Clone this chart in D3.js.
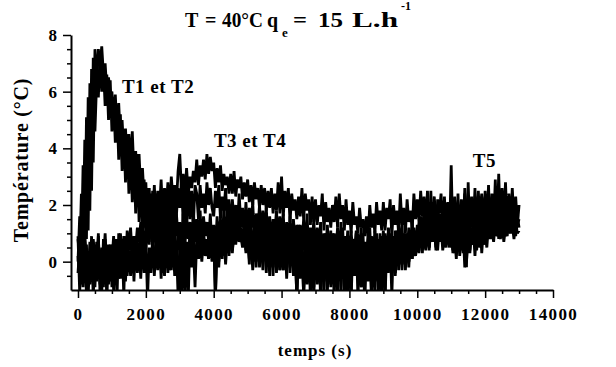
<!DOCTYPE html>
<html>
<head>
<meta charset="utf-8">
<script src="https://cdn.jsdelivr.net/npm/d3@7"></script>
<style>
  html, body { margin: 0; padding: 0; background: #fff; }
  svg { display: block; }
  svg text { font-family: "Liberation Serif", "Times New Roman", Tinos, "DejaVu Serif", serif !important; font-weight: bold; fill: #000; }
</style>
</head>
<body>
<svg id="chart" width="616" height="367"></svg>
<script>
// ---- data: temperature rise (°C), one sample every 50 s from 0 to 13000 s ----
const sampleStep = 50;

const T1 = [
  0.8, 0.2, 2.4, 0.4, 4.3, 0.8, 5.8, 1.8, 6.8, 3.5,
  7.5, 6.3, 7.5, 6.9, 7.6, 6.6, 7.0, 6.0, 6.5, 5.9,
  6.0, 5.0, 5.9, 4.6, 5.6, 4.3, 5.0, 3.9, 4.7, 3.6,
  4.5, 3.4, 4.6, 3.1, 3.9, 2.8, 3.8, 2.5, 3.3, 2.2,
  2.8, 1.2, 2.6, 0.9, 2.5, 1.3, 2.4, 0.7, 2.2, 1.0,
  1.9, 0.5, 2.2, 0.8, 1.8, 0.4, 2.0, 0.6, 1.7, 0.9,
  1.4, 0.6, 1.7, 0.5, 1.6, 0.8, 1.4, 0.4, 1.8, 0.7,
  1.5, 0.6, 1.8, 0.5, 1.6, 0.9, 1.4, 0.7, 1.7, 0.4,
  1.3, 0.4, 1.6, 0.7, 1.5, 0.5, 1.9, 0.8, 1.6, 1.0,
  1.9, 0.9, 1.7, 1.1, 1.5, 0.8, 1.8, 1.2, 1.6, 0.7,
  1.5, 0.6, 1.3, 0.3, 1.2, 0.5, 1.6, 0.8, 1.4, 0.4,
  1.6, 0.5, 1.3, 0.2, 1.1, 0.6, 1.5, 0.3, 1.2, 0.5,
  1.4, 0.1, 1.0, 0.5, 1.3, -0.2, 0.9, 0.4, 1.2, 0.0,
  1.3, -0.2, 0.9, 0.4, 1.2, 0.1, 1.0, -0.3, 0.8, 0.2,
  0.8, -0.3, 1.1, 0.2, 0.7, -0.5, 1.0, 0.1, 0.6, -0.4,
  1.0, 0.2, 0.8, -0.6, 0.5, 0.1, 1.2, -0.3, 0.9, 0.0,
  0.9, -0.4, 0.7, 0.3, 1.1, -0.1, 0.8, 0.4, 1.0, -0.6,
  0.5, 0.2, 1.2, -0.3, 0.8, 0.1, 1.0, -0.4, 0.7, 0.3,
  1.1, -0.1, 0.8, 0.4, 1.0, 0.0, 0.9, -0.4, 0.7, 0.3,
  1.1, -0.1, 0.8, 0.4, 1.0, 0.0, 0.9, 0.2, 1.2, 0.3,
  1.2, 0.5, 1.0, 0.3, 1.3, 0.6, 1.1, 0.4, 1.4, 0.8,
  1.3, 0.4, 1.1, 0.8, 1.4, 0.6, 1.2, 0.5, 1.0, 0.7,
  1.1, 0.3, 1.3, 0.7, 1.2, 0.2, 1.0, 0.5, 1.4, 0.6,
  1.2, 0.4, 1.0, 0.6, 1.4, 0.5, 1.3, 0.7, 1.5, 0.8,
  1.6, 0.8, 1.9, 1.0, 1.7, 1.2, 2.0, 0.9, 1.8, 1.1,
  1.7, 0.9, 1.8, 1.3, 2.1, 1.0, 1.9, 1.2, 2.0, 1.3,
  1.5
];
const T2 = [
  0.0, 1.6, 0.3, 3.4, 0.6, 5.1, 1.1, 6.3, 2.5, 7.2,
  4.6, 6.4, 5.8, 7.3, 6.0, 6.9, 5.5, 6.6, 5.0, 6.4,
  4.6, 5.8, 4.2, 5.5, 3.6, 5.2, 3.2, 4.6, 2.8, 4.5,
  2.4, 4.0, 2.1, 3.6, 1.7, 3.8, 1.4, 3.1, 1.1, 2.9,
  1.0, 2.6, 0.7, 2.4, 0.5, 2.3, 0.2, 2.0, -0.1, 1.8,
  -0.4, 1.6, 0.1, 1.2, -0.3, 1.4, 0.0, 1.1, -0.5, 0.9,
  0.9, -0.6, 1.0, -0.2, 0.7, -0.4, 1.2, 0.0, 1.0, 0.1,
  0.6, 0.1, 0.9, 0.2, 1.1, 0.3, 0.8, 0.1, 0.9, 0.2,
  1.1, -1.3, 0.8, -0.2, 1.2, 0.1, 1.0, 0.3, 1.3, 0.2,
  1.4, 0.3, 1.3, 0.7, 1.5, 0.8, 1.2, 0.6, 1.3, 0.4,
  0.9, -0.1, 1.1, 0.2, 0.8, -0.2, 1.0, 0.1, 0.7, -0.3,
  1.0, 0.0, 0.7, -0.5, 0.9, -0.2, 1.1, -0.4, 0.6, -0.3,
  0.4, -0.3, 0.9, -0.6, 0.6, 0.1, 0.8, -0.5, 0.5, -1.3,
  0.5, -0.4, 0.7, -1.2, 0.4, -0.3, 0.8, -0.6, 0.5, -1.3,
  0.9, -0.2, 0.6, -0.7, 0.4, -1.2, 0.8, -0.3, 0.5, -0.8,
  0.4, -0.5, 0.8, -1.3, 0.6, -0.1, 0.7, -1.2, 0.3, -0.6,
  0.8, -1.3, 0.5, -0.4, 0.6, -0.2, 0.8, -0.9, 0.4, -1.4,
  0.6, -0.5, 0.9, -1.1, 0.3, -0.7, 0.8, -1.3, 0.5, -0.6,
  0.8, -1.3, 0.5, -0.4, 0.6, -0.2, 0.8, -0.5, 0.4, 0.0,
  0.7, -0.3, 0.9, 0.0, 0.6, -0.2, 1.0, 0.1, 0.8, 0.2,
  0.9, 0.3, 1.1, 0.6, 0.8, 0.4, 1.2, 0.5, 1.0, 0.7,
  1.2, 0.5, 1.0, 0.7, 1.3, 0.4, 0.9, 0.6, 1.1, 0.5,
  1.3, 0.4, 0.9, 0.1, 1.1, 0.5, 0.8, 0.3, 1.2, 0.0,
  0.9, 0.3, 1.2, 0.6, 1.0, 0.4, 1.3, 0.5, 1.1, 0.6,
  1.0, 0.5, 1.3, 0.8, 1.1, 0.7, 1.4, 0.9, 1.2, 0.8,
  1.4, 0.7, 1.2, 0.9, 1.5, 1.0, 1.3, 0.8, 1.4, 1.0,
  1.1
];
const T3 = [
  0.2, -0.5, 0.6, -0.3, 0.9, 0.1, -0.6, 0.7, -0.2, 0.8,
  0.1, -0.4, 0.9, -0.8, 0.5, 0.0, 1.0, -0.3, 0.6, -0.7,
  0.0, 0.9, -0.3, 0.6, -0.5, 1.0, 0.3, 0.8, -0.2, 1.1,
  0.4, 1.2, 0.1, 0.9, 0.5, 1.2, 0.7, 1.4, 0.8, 1.6,
  1.2, 2.4, 1.0, 2.2, 1.5, 2.7, 1.3, 2.5, 1.8, 2.9,
  1.6, 2.6, 1.9, 2.8, 1.7, 3.0, 2.2, 2.7, 2.0, 3.2,
  3.8, 2.5, 3.1, 2.3, 3.3, 2.4, 3.0, 2.6, 3.2, 2.8,
  3.6, 2.7, 3.4, 3.0, 3.6, 2.9, 3.8, 3.1, 3.7, 3.2,
  3.5, 2.6, 3.3, 2.8, 3.4, 2.5, 3.1, 2.7, 3.0, 2.4,
  3.1, 2.4, 3.2, 2.3, 2.9, 2.6, 3.0, 2.2, 2.8, 2.3,
  2.9, 2.1, 2.7, 2.0, 2.8, 2.2, 2.6, 1.9, 2.7, 2.0,
  2.6, 1.8, 2.5, 1.9, 2.6, 1.7, 2.4, 1.8, 2.8, 1.7,
  3.0, 1.6, 2.5, 1.9, 2.6, 1.4, 2.4, 1.8, 2.2, 1.5,
  2.3, 1.6, 2.6, 1.5, 2.4, 1.8, 2.2, 1.3, 2.3, 1.4,
  2.2, 1.3, 2.0, 1.6, 2.4, 1.1, 2.1, 1.4, 1.9, 1.2,
  2.0, 1.4, 2.3, 1.2, 2.4, 1.5, 2.0, 1.1, 2.2, 1.3,
  1.8, 1.0, 2.1, 1.3, 1.6, 1.0, 1.9, 1.2, 1.5, 0.9,
  1.6, 0.9, 2.0, 1.2, 1.7, 1.0, 2.1, 1.3, 1.8, 1.1,
  2.1, 1.1, 1.9, 1.5, 2.2, 0.9, 2.0, 1.3, 1.8, 1.0,
  2.4, 1.3, 1.9, 1.0, 2.2, 1.4, 1.8, 1.1, 2.4, 1.5,
  2.2, 1.4, 2.5, 1.6, 2.3, 1.3, 2.5, 1.5, 2.1, 1.7,
  2.3, 1.5, 2.0, 1.7, 2.4, 1.4, 2.2, 1.6, 2.1, 1.2,
  2.1, 1.6, 2.3, 1.4, 2.0, 1.8, 2.2, 1.5, 2.4, 1.6,
  2.2, 1.4, 2.0, 1.7, 2.3, 1.5, 2.1, 1.8, 2.4, 1.6,
  2.3, 1.7, 2.0, 1.5, 2.2, 1.6, 2.1, 1.9, 2.3, 1.4,
  2.2, 1.8, 2.1, 1.5, 2.0, 1.7, 2.3, 1.4, 1.8, 1.6,
  1.6
];
const T4 = [
  -0.4, 0.5, -0.8, 0.3, -0.5, 0.6, -1.2, 0.2, -0.7, 0.4,
  -0.9, 0.7, -0.3, 0.4, -1.1, 0.8, -0.4, 0.3, -0.8, 0.6,
  -0.9, 0.5, -0.3, 0.8, -0.6, 0.4, -0.2, 0.9, -0.7, 0.6,
  -0.2, 0.4, -0.4, 0.9, 0.1, 0.7, -0.1, 1.0, 0.1, 1.1,
  0.4, 1.4, 0.6, 1.7, 0.8, 1.9, 1.1, 2.2, 0.9, 2.0,
  1.3, 2.2, 1.0, 2.0, 1.5, 2.6, 1.2, 2.4, 1.6, 2.6,
  1.9, 2.8, 1.4, 2.6, 1.2, 2.9, 1.5, 2.5, 1.3, 2.7,
  2.4, 1.5, 2.7, 1.9, 2.4, 1.7, 2.8, 2.0, 2.6, 1.9,
  1.6, 2.5, 1.9, 2.7, 1.5, 2.3, 1.8, 2.6, 1.4, 2.2,
  1.1, 2.2, 1.4, 2.0, 1.2, 2.4, 1.3, 1.9, 1.0, 2.1,
  1.0, 1.9, 1.2, 2.1, 0.8, 1.7, 1.1, 2.0, 0.9, 1.8,
  1.1, 1.9, 0.7, 1.6, 0.6, 1.5, 1.0, 1.8, 0.8, 1.6,
  0.9, 1.7, 0.4, 1.4, 0.7, 1.6, 0.3, 1.5, 0.6, 1.3,
  0.2, 1.3, 0.5, 1.5, 0.3, 1.7, 0.4, 1.2, 0.5, 1.5,
  0.1, 1.2, 0.4, 1.4, -0.1, 1.0, 0.3, 1.3, 0.0, 1.1,
  -0.2, 1.0, 0.3, 1.2, 0.0, 1.4, -0.3, 0.9, 0.2, 1.1,
  -0.2, 1.1, 0.2, 0.8, -0.3, 1.0, 0.1, 1.2, -0.4, 0.7,
  0.1, 1.0, -0.2, 0.9, 0.2, 1.1, -0.3, 0.8, -0.2, 0.9,
  0.2, 1.0, -0.1, 1.2, 0.3, 0.9, 0.0, 1.1, 0.2, 1.3,
  0.5, 1.3, 0.1, 1.0, 0.3, 1.2, 0.2, 1.4, 0.4, 1.1,
  0.6, 1.4, 0.5, 1.2, 0.8, 1.5, 0.6, 1.3, 0.7, 1.6,
  0.8, 1.5, 0.4, 1.3, 0.7, 1.4, 0.5, 1.2, 0.9, 1.4,
  0.5, 1.2, 0.3, 1.0, 0.6, 1.3, 0.4, 1.1, -0.2, 1.1,
  0.4, 1.3, 0.6, 1.2, 0.2, 1.2, 0.5, 1.4, 0.3, 1.2,
  0.6, 1.4, 0.9, 1.6, 0.8, 1.5, 1.0, 1.7, 0.8, 1.6,
  1.1, 1.5, 0.9, 1.7, 1.0, 1.6, 1.1, 1.5, 0.9, 1.6,
  1.2
];
const T5 = [
  0.9, -1.1, 0.5, -0.9, 0.7, -1.2, 0.3, -0.8, 0.9, -1.3,
  0.6, -0.7, 1.0, -1.2, 0.4, -0.9, 0.8, -1.4, 0.5, -0.6,
  0.6, -1.0, 0.8, -1.3, 1.0, -0.6, 0.7, -1.2, 0.9, -0.5,
  0.4, -0.5, 0.6, -0.7, 0.8, -0.4, 0.5, -0.6, 0.9, -0.4,
  0.7, -1.3, 0.5, -0.4, 0.9, -0.5, 0.6, -0.3, 0.8, -0.6,
  0.7, -0.5, 1.0, -0.4, 0.6, -0.3, 0.8, -0.5, 0.6, -1.2,
  0.4, -1.4, 0.7, -1.1, 0.6, -1.3, 0.9, -0.2, 0.5, -0.9,
  0.8, 0.1, 0.6, 0.0, 0.9, 0.2, 0.5, 0.1, 0.7, 0.0,
  0.8, -1.2, 0.6, 0.0, 0.9, 0.2, 1.0, -0.1, 0.8, 0.3,
  1.1, 0.4, 1.0, 0.6, 1.2, 0.7, 0.9, 0.5, 1.1, 0.3,
  1.0, 0.1, 0.8, -0.3, 0.7, 0.0, 1.2, -0.2, 0.9, 0.1,
  0.6, -0.4, 1.0, -0.2, 0.8, -0.5, 1.1, 0.0, 0.7, -0.3,
  0.9, -0.3, 0.5, -0.1, 1.0, -0.4, 0.7, -0.2, 0.6, -1.3,
  0.4, -0.6, 0.8, -1.2, 0.5, -0.8, 0.9, -1.4, 0.6, -0.9,
  0.5, -0.8, 0.9, -1.4, 0.3, -0.7, 0.8, -1.1, 0.6, -0.9,
  0.7, -1.3, 0.4, -0.8, 0.9, -1.2, 0.5, -0.6, 0.8, -1.4,
  0.6, -1.1, 0.8, -0.5, 1.0, -1.3, 0.4, -0.9, 0.7, -1.2,
  0.5, -0.7, 0.9, -1.4, 0.6, -1.0, 0.8, -0.5, 1.0, -1.3,
  0.6, -1.1, 0.9, -0.2, 0.7, -1.2, 0.8, 0.0, 1.1, -0.3,
  0.8, -0.1, 1.0, -0.3, 0.7, 0.0, 1.1, 0.1, 1.0, 0.2,
  1.3, 0.4, 1.6, 0.5, 2.0, 0.6, 1.8, 0.5, 2.5, 0.8,
  1.9, 0.6, 2.2, 0.9, 1.7, 0.7, 2.3, 0.8, 1.9, 0.9,
  3.4, 0.7, 2.2, 1.0, 2.4, 0.5, 2.0, 0.8, 2.6, -0.2,
  2.8, 0.9, 2.3, 1.1, 2.6, 0.8, 2.5, 1.0, 2.2, 1.1,
  2.5, 1.3, 2.7, 0.9, 2.4, 1.2, 2.9, 1.0, 3.1, 1.2,
  2.6, 1.5, 2.8, 1.2, 2.4, 1.3, 2.6, 1.4, 2.3, 1.3,
  2.0
];

const seriesList = [T5, T4, T3, T2, T1];
const xMajorTicks = [0, 2000, 4000, 6000, 8000, 10000, 12000, 14000];
const yMajorTicks = [0, 2, 4, 6, 8];
const curveLabels = [
  { text: "T1 et T2", t: 2360, v: 5.96 },
  { text: "T3 et T4", t: 5070, v: 4.06 },
  { text: "T5", t: 11980, v: 3.35 }
];
const titleParts = [
  { text: "T", x: 185, y: 27, size: 20, len: null },
  { text: "=", x: 205, y: 27, size: 20, len: null },
  { text: "40°C", x: 222, y: 27, size: 20, len: 41 },
  { text: "q", x: 267, y: 27, size: 20, len: null },
  { text: "e", x: 282, y: 37, size: 13, len: null },
  { text: "=", x: 293, y: 27, size: 20, len: 14 },
  { text: "15", x: 318, y: 27, size: 20, len: 25 },
  { text: "L.h", x: 352, y: 27, size: 20, len: 46 },
  { text: "-1", x: 401, y: 10, size: 12, len: 10 }
];

// ---- drawing ----
const svg = d3.select("#chart");
const x = d3.scaleLinear().domain([-206, 14000]).range([71, 553]);
const y = d3.scaleLinear().domain([-1, 8]).range([290, 35]);

svg.append("defs").append("clipPath").attr("id", "plotclip")
  .append("rect").attr("x", 72).attr("y", 30).attr("width", 481).attr("height", 260);

const line = d3.line()
  .x((d, i) => x(i * sampleStep))
  .y(d => y(d));

const g = svg.append("g").attr("clip-path", "url(#plotclip)");
g.selectAll("path.series")
  .data(seriesList)
  .join("path")
  .attr("class", "series")
  .attr("d", line)
  .attr("fill", "none")
  .attr("stroke", "#000")
  .attr("stroke-width", 2.8)
  .attr("stroke-linejoin", "miter")
  .attr("stroke-miterlimit", 2);

// minor ticks
const xMinor = d3.range(0, 14001, 500).filter(v => v % 2000 !== 0);
const yMinor = d3.range(-0.5, 8, 0.5).filter(v => v % 2 !== 0);

svg.append("g").attr("transform", "translate(0,290)")
  .call(d3.axisBottom(x).tickValues(xMinor).tickSize(4).tickFormat(""))
  .call(a => a.select(".domain").remove())
  .selectAll("line").attr("stroke-width", 1.5);
svg.append("g").attr("transform", "translate(71,0)")
  .call(d3.axisLeft(y).tickValues(yMinor).tickSize(4).tickFormat(""))
  .call(a => a.select(".domain").remove())
  .selectAll("line").attr("stroke-width", 1.5);

// major axes
const xAxis = svg.append("g").attr("transform", "translate(0,290)")
  .call(d3.axisBottom(x).tickValues(xMajorTicks).tickSize(8).tickSizeOuter(0).tickPadding(10).tickFormat(d3.format("d")));
xAxis.attr("font-family", null);
xAxis.select(".domain").attr("stroke-width", 2);
xAxis.selectAll("line").attr("stroke-width", 1.5);
xAxis.selectAll("text").style("font-size", "17px").style("letter-spacing", "1.4px");

const yAxis = svg.append("g").attr("transform", "translate(71,0)")
  .call(d3.axisLeft(y).tickValues(yMajorTicks).tickSize(8).tickSizeOuter(0).tickPadding(6));
yAxis.attr("font-family", null);
yAxis.select(".domain").attr("stroke-width", 2);
yAxis.selectAll("line").attr("stroke-width", 1.5);
yAxis.selectAll("text").style("font-size", "17px");

// axis titles
svg.append("text")
  .attr("transform", "translate(28,160) rotate(-90)")
  .attr("text-anchor", "middle")
  .style("font-size", "20px").style("letter-spacing", "0.8px")
  .text("Température (°C)");

svg.append("text")
  .attr("x", 315).attr("y", 356)
  .attr("text-anchor", "middle")
  .style("font-size", "17px").style("letter-spacing", "1px")
  .text("temps (s)");

// title, one text element per word
svg.selectAll("text.titlepart")
  .data(titleParts)
  .join("text")
  .attr("class", "titlepart")
  .attr("x", d => d.x)
  .attr("y", d => d.y)
  .attr("textLength", d => d.len)
  .attr("lengthAdjust", "spacingAndGlyphs")
  .style("font-size", d => d.size + "px")
  .text(d => d.text);

// curve labels
svg.selectAll("text.curvelabel")
  .data(curveLabels)
  .join("text")
  .attr("class", "curvelabel")
  .attr("x", d => x(d.t))
  .attr("y", d => y(d.v))
  .attr("text-anchor", "middle")
  .style("font-size", "19px").style("letter-spacing", "0.5px")
  .text(d => d.text);
</script>
</body>
</html>
